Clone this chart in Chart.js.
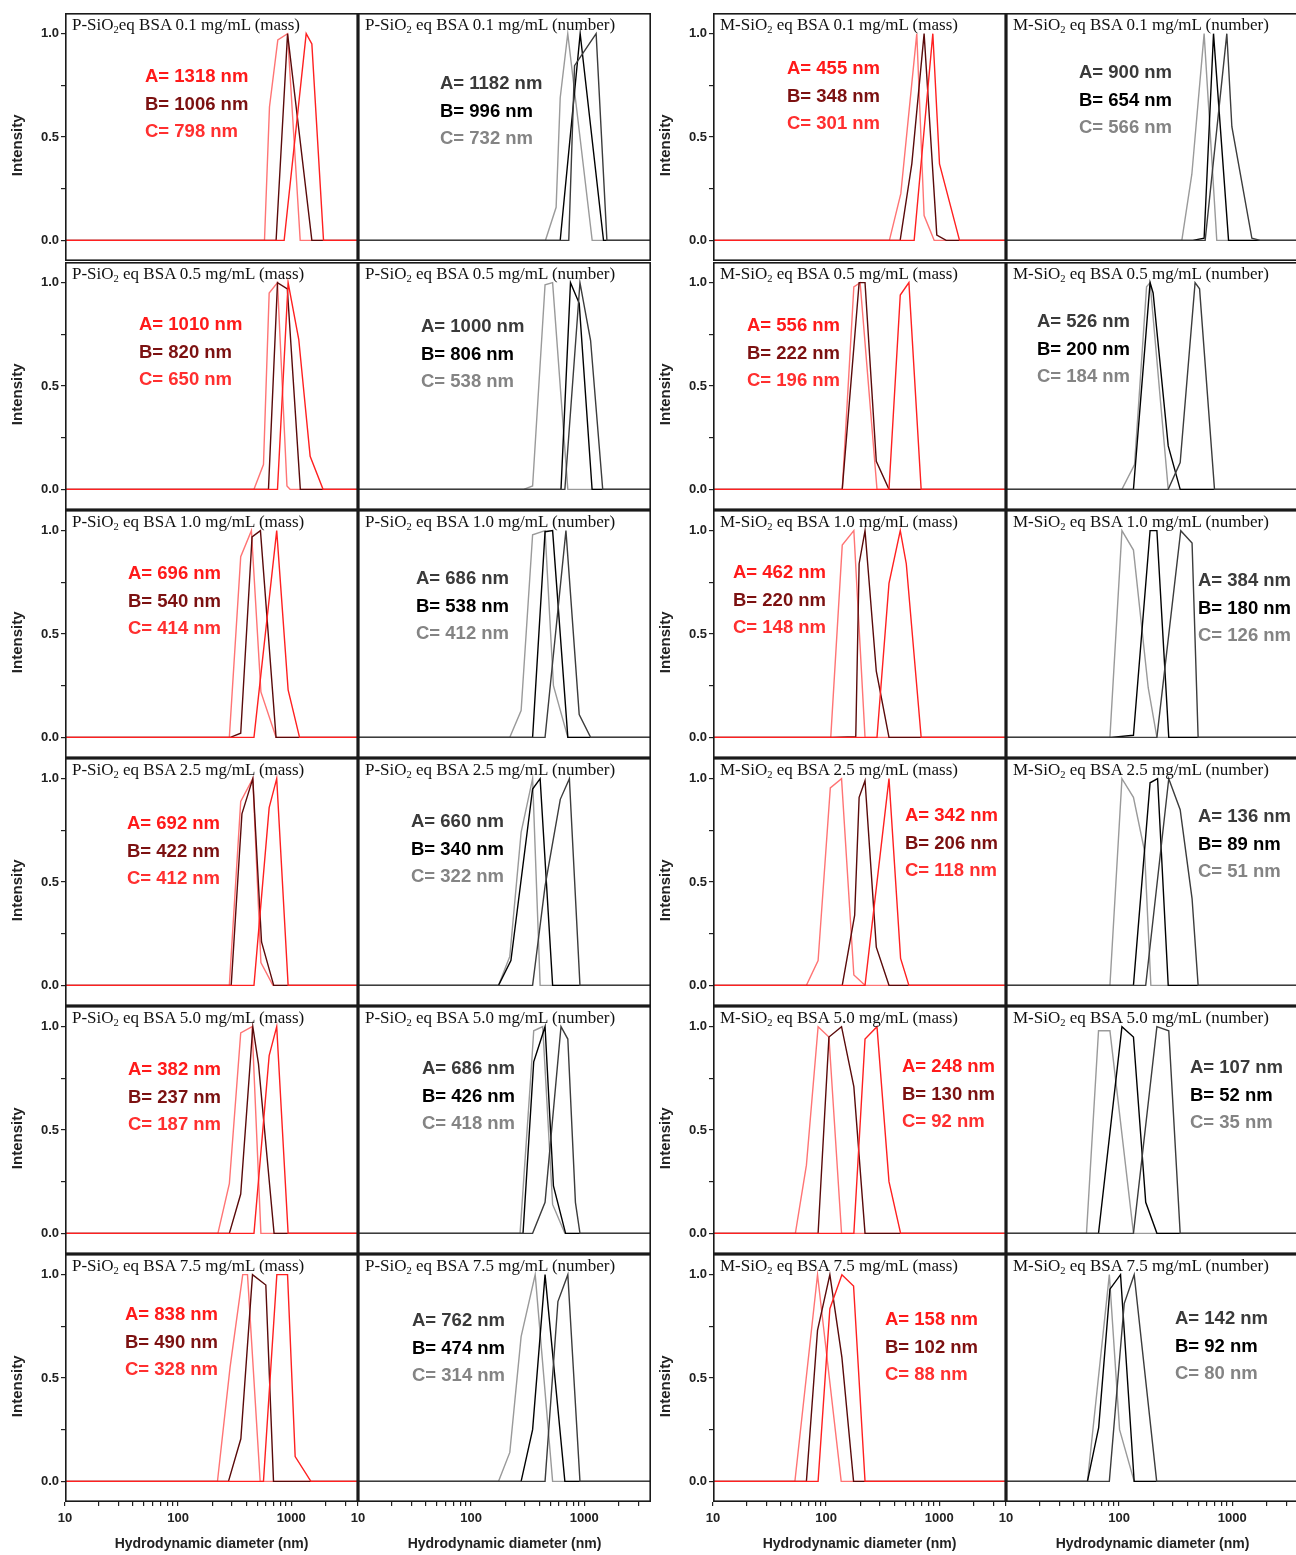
<!DOCTYPE html>
<html><head><meta charset="utf-8">
<script src="https://cdn.jsdelivr.net/npm/chart.js@4.4.1/dist/chart.umd.min.js"></script>
<style>
html,body{margin:0;padding:0;background:#fff;}
body{width:1296px;height:1555px;overflow:hidden;position:relative;}
canvas{position:absolute;}
.ttl{position:absolute;font-family:'Liberation Serif','Times New Roman',serif;font-size:17px;color:#111;white-space:nowrap;line-height:17px;z-index:5;}
.ttl sub{font-size:10.5px;vertical-align:-3px;line-height:0;}
.ann{position:absolute;font-family:'Liberation Sans',Arial,sans-serif;font-weight:bold;font-size:18.5px;line-height:27.5px;white-space:nowrap;z-index:5;}
</style></head><body>
<script>
// ---------------- DATA ----------------
const concentrations = ['0.1', '0.5', '1.0', '2.5', '5.0', '7.5'];
const xTickValues = [10, 100, 1000];
const xMinorTicks = [20,30,40,50,60,70,80,90,200,300,400,500,600,700,800,900,2000,3000];
const yTickValues = [0, 0.5, 1.0];
const yMinorTicks = [0.25, 0.75];

// Peak labels (A, B, C in nm)
const P_mass_labels   = [[1318,1006,798],[1010,820,650],[696,540,414],[692,422,412],[382,237,187],[838,490,328]];
const P_number_labels = [[1182,996,732],[1000,806,538],[686,538,412],[660,340,322],[686,426,418],[762,474,314]];
const M_mass_labels   = [[455,348,301],[556,222,196],[462,220,148],[342,206,118],[248,130,92],[158,102,88]];
const M_number_labels = [[900,654,566],[526,200,184],[384,180,126],[136,89,51],[107,52,35],[142,92,80]];

// P-SiO2 (mass) curves [diameter nm, intensity]
const P_mass_01_A = [[10,0],[867,0],[1358,1.0],[1524,0.95],[1932,0],[3900,0]];
const P_mass_01_B = [[10,0],[736,0],[929,1.0],[1524,0],[3900,0]];
const P_mass_01_C = [[10,0],[581,0],[643,0.645],[762,0.97],[929,1.0],[1202,0],[3900,0]];
const P_mass_05_A = [[10,0],[757,0],[940,1.0],[1167,0.726],[1472,0.16],[1914,0],[3900,0]];
const P_mass_05_B = [[10,0],[630,0],[757,1.0],[925,0.97],[1205,0],[3900,0]];
const P_mass_05_C = [[10,0],[469,0],[569,0.12],[639,0.95],[757,1.0],[918,0.016],[977,0],[3900,0]];
const P_mass_10_A = [[10,0],[469,0],[745,1.0],[940,0.23],[1186,0],[3900,0]];
const P_mass_10_B = [[10,0],[290,0],[358,0.02],[451,0.97],[535,1.0],[735,0],[3900,0]];
const P_mass_10_C = [[10,0],[284,0],[358,0.874],[445,1.0],[540,0.22],[735,0],[3900,0]];
const P_mass_25_A = [[10,0],[469,0],[639,0.86],[745,1.0],[940,0],[3900,0]];
const P_mass_25_B = [[10,0],[295,0],[367,0.83],[458,1.0],[547,0.21],[701,0],[3900,0]];
const P_mass_25_C = [[10,0],[284,0],[358,0.89],[458,1.0],[540,0.11],[690,0],[3900,0]];
const P_mass_50_A = [[10,0],[469,0],[639,0.86],[745,1.0],[940,0],[3900,0]];
const P_mass_50_B = [[10,0],[284,0],[358,0.19],[458,1.0],[514,0.82],[706,0],[3900,0]];
const P_mass_50_C = [[10,0],[225,0],[284,0.24],[358,0.97],[451,1.0],[540,0],[3900,0]];
const P_mass_75_A = [[10,0],[569,0],[747,1.0],[929,1.0],[1085,0.12],[1494,0],[3900,0]];
const P_mass_75_B = [[10,0],[279,0],[359,0.206],[455,1.0],[597,0.95],[698,0],[3900,0]];
const P_mass_75_C = [[10,0],[223,0],[288,0.55],[373,1.0],[411,1.0],[532,0],[3900,0]];

// P-SiO2 (number)
const P_num_01_A = [[10,0],[731,0],[822,0.845],[1276,1.0],[1589,0],[3900,0]];
const P_num_01_B = [[10,0],[614,0],[922,1.0],[1483,0],[3900,0]];
const P_num_01_C = [[10,0],[455,0],[565,0.16],[614,0.69],[716,1.0],[1177,0],[3900,0]];
const P_num_05_A = [[10,0],[675,0],[918,1.0],[1140,0.72],[1459,0],[3900,0]];
const P_num_05_B = [[10,0],[624,0],[757,1.0],[904,0.9],[1175,0],[3900,0]];
const P_num_05_C = [[10,0],[292,0],[350,0.016],[451,0.99],[526,1.0],[717,0],[3900,0]];
const P_num_10_A = [[10,0],[451,0],[690,1.0],[904,0.11],[1140,0],[3900,0]];
const P_num_10_B = [[10,0],[350,0],[451,0.995],[526,1.0],[717,0],[3900,0]];
const P_num_10_C = [[10,0],[220,0],[277,0.13],[350,0.98],[451,1.0],[535,0.25],[717,0],[3900,0]];
const P_num_25_A = [[10,0],[350,0],[451,0.48],[615,0.9],[740,1.0],[918,0],[3900,0]];
const P_num_25_B = [[10,0],[175,0],[225,0.12],[350,0.95],[408,1.0],[526,0],[3900,0]];
const P_num_25_C = [[10,0],[175,0],[220,0.14],[277,0.74],[350,1.0],[408,0],[3900,0]];
const P_num_50_A = [[10,0],[350,0],[451,0.15],[624,1.0],[717,0.94],[837,0.15],[918,0],[3900,0]];
const P_num_50_B = [[10,0],[288,0],[358,0.83],[451,1.0],[535,0.23],[685,0],[3900,0]];
const P_num_50_C = [[10,0],[271,0],[342,0.81],[358,0.98],[430,1.0],[526,0.14],[675,0],[3900,0]];
const P_num_75_A = [[10,0],[451,0],[586,0.87],[717,1.0],[918,0],[3900,0]];
const P_num_75_B = [[10,0],[277,0],[350,0.25],[451,1.0],[675,0],[3900,0]];
const P_num_75_C = [[10,0],[175,0],[220,0.14],[277,0.70],[369,1.0],[526,0],[3900,0]];

// M-SiO2 (mass)
const M_mass_01_A = [[10,0],[601,0],[879,1.0],[1007,0.37],[1514,0],[3900,0]];
const M_mass_01_B = [[10,0],[452,0],[573,0.37],[736,1.0],[953,0.025],[1153,0],[3900,0]];
const M_mass_01_C = [[10,0],[363,0],[458,0.226],[634,1.0],[736,0.12],[903,0],[3900,0]];
const M_mass_05_A = [[10,0],[360,0],[453,0.94],[540,1.0],[693,0],[3900,0]];
const M_mass_05_B = [[10,0],[139,0],[196,1.0],[221,1.0],[278,0.136],[360,0],[3900,0]];
const M_mass_05_C = [[10,0],[139,0],[176,0.98],[200,1.0],[282,0],[3900,0]];
const M_mass_10_A = [[10,0],[282,0],[360,0.745],[453,1.0],[512,0.84],[693,0],[3900,0]];
const M_mass_10_B = [[10,0],[110,0],[183,0.003],[196,0.84],[221,1.0],[278,0.32],[360,0],[3900,0]];
const M_mass_10_C = [[10,0],[110,0],[139,0.93],[176,1.0],[221,0],[3900,0]];
const M_mass_25_A = [[10,0],[221,0],[360,1.0],[456,0.13],[540,0],[3900,0]];
const M_mass_25_B = [[10,0],[139,0],[179,0.34],[196,0.91],[221,0.99],[278,0.185],[360,0],[3900,0]];
const M_mass_25_C = [[10,0],[67,0],[85,0.12],[109,0.955],[137,1.0],[176,0.05],[221,0],[3900,0]];
const M_mass_50_A = [[10,0],[176,0],[221,0.94],[282,1.0],[360,0.25],[456,0],[3900,0]];
const M_mass_50_B = [[10,0],[85,0],[106,0.95],[137,1.0],[176,0.71],[221,0],[3900,0]];
const M_mass_50_C = [[10,0],[53.5,0],[67,0.33],[85,1.0],[106,0.95],[137,0],[3900,0]];
const M_mass_75_A = [[10,0],[85,0],[108,0.835],[138,1.0],[175,0.945],[221,0],[3900,0]];
const M_mass_75_B = [[10,0],[67,0],[84,0.73],[108,1.0],[138,0.60],[175,0],[3900,0]];
const M_mass_75_C = [[10,0],[53,0],[84,1.0],[136,0],[3900,0]];

// M-SiO2 (number)
const M_num_01_A = [[10,0],[577,0],[897,1.0],[994,0.55],[1494,0.01],[1770,0],[3900,0]];
const M_num_01_B = [[10,0],[449,0],[565,0.01],[684,1.0],[929,0],[3900,0]];
const M_num_01_C = [[10,0],[359,0],[440,0.32],[565,1.0],[731,0],[3900,0]];
const M_num_05_A = [[10,0],[272,0],[347,0.13],[470,1.0],[515,0.97],[698,0],[3900,0]];
const M_num_05_B = [[10,0],[134,0],[188,1.0],[200,0.95],[272,0.21],[347,0],[3900,0]];
const M_num_05_C = [[10,0],[106,0],[137,0.12],[175,0.98],[188,1.0],[272,0],[3900,0]];
const M_num_10_A = [[10,0],[216,0],[351,1.0],[442,0.94],[500,0],[3900,0]];
const M_num_10_B = [[10,0],[85,0],[134,0.01],[188,1.0],[216,1.0],[275,0],[3900,0]];
const M_num_10_C = [[10,0],[83,0],[106,1.0],[134,0.906],[181,0.24],[216,0],[3900,0]];
const M_num_25_A = [[10,0],[172,0],[275,1.0],[347,0.85],[442,0.42],[500,0],[3900,0]];
const M_num_25_B = [[10,0],[134,0],[188,0.98],[219,1.0],[272,0],[3900,0]];
const M_num_25_C = [[10,0],[83,0],[106,1.0],[134,0.91],[168,0.65],[191,0],[3900,0]];
const M_num_50_A = [[10,0],[134,0],[216,1.0],[275,0.98],[347,0],[3900,0]];
const M_num_50_B = [[10,0],[65.8,0],[106,1.0],[134,0.95],[172,0.15],[216,0],[3900,0]];
const M_num_50_C = [[10,0],[51.5,0],[65.8,0.98],[83,0.98],[134,0],[3900,0]];
const M_num_75_A = [[10,0],[82,0],[111,0.86],[136,1.0],[215,0],[3900,0]];
const M_num_75_B = [[10,0],[52.5,0],[66,0.26],[83,0.93],[103,1.0],[136,0],[3900,0]];
const M_num_75_C = [[10,0],[52.5,0],[82,1.0],[101,0.25],[136,0],[3900,0]];

const P_mass = [[P_mass_01_A,P_mass_01_B,P_mass_01_C],[P_mass_05_A,P_mass_05_B,P_mass_05_C],[P_mass_10_A,P_mass_10_B,P_mass_10_C],[P_mass_25_A,P_mass_25_B,P_mass_25_C],[P_mass_50_A,P_mass_50_B,P_mass_50_C],[P_mass_75_A,P_mass_75_B,P_mass_75_C]];
const P_number = [[P_num_01_A,P_num_01_B,P_num_01_C],[P_num_05_A,P_num_05_B,P_num_05_C],[P_num_10_A,P_num_10_B,P_num_10_C],[P_num_25_A,P_num_25_B,P_num_25_C],[P_num_50_A,P_num_50_B,P_num_50_C],[P_num_75_A,P_num_75_B,P_num_75_C]];
const M_mass = [[M_mass_01_A,M_mass_01_B,M_mass_01_C],[M_mass_05_A,M_mass_05_B,M_mass_05_C],[M_mass_10_A,M_mass_10_B,M_mass_10_C],[M_mass_25_A,M_mass_25_B,M_mass_25_C],[M_mass_50_A,M_mass_50_B,M_mass_50_C],[M_mass_75_A,M_mass_75_B,M_mass_75_C]];
const M_number = [[M_num_01_A,M_num_01_B,M_num_01_C],[M_num_05_A,M_num_05_B,M_num_05_C],[M_num_10_A,M_num_10_B,M_num_10_C],[M_num_25_A,M_num_25_B,M_num_25_C],[M_num_50_A,M_num_50_B,M_num_50_C],[M_num_75_A,M_num_75_B,M_num_75_C]];

// ---------------- LAYOUT / STYLE ----------------
const colLefts = [65, 358, 713, 1006];
const rowTops = [13, 262, 510, 758, 1006, 1254];
const boxW = 293, boxH = 248;
const massLine = ['#ff2020', '#5a0a0a', '#ff7474'];
const numLine  = ['#3c3c3c', '#000000', '#9a9a9a'];
const massText = ['#ff1a1a', '#7c1111', '#ff2f2f'];
const numText  = ['#3a3a3a', '#000000', '#848484'];
const annPos = [
  [[145,76],[139,324],[128,573],[127,823],[128,1069],[125,1314]],
  [[440,83],[421,326],[416,578],[411,821],[422,1068],[412,1320]],
  [[787,68],[747,325],[733,572],[905,815],[902,1066],[885,1319]],
  [[1079,72],[1037,321],[1198,580],[1198,816],[1190,1067],[1175,1318]]
];
const groups = [
  {prefix:'P', mode:'mass', curves:P_mass, labels:P_mass_labels},
  {prefix:'P', mode:'number', curves:P_number, labels:P_number_labels},
  {prefix:'M', mode:'mass', curves:M_mass, labels:M_mass_labels},
  {prefix:'M', mode:'number', curves:M_number, labels:M_number_labels}
];

const framePlugin = {
  id: 'frame',
  afterDraw(chart) {
    const {ctx, chartArea: a} = chart;
    ctx.save();
    ctx.strokeStyle = '#1a1a1a';
    ctx.lineWidth = 1.6;
    ctx.strokeRect(a.left + 0.8, a.top + 0.8, a.right - a.left - 1.6, a.bottom - a.top - 1.6);
    ctx.restore();
  }
};

const tickFont = {family: "'Liberation Sans', Arial, sans-serif", size: 13, weight: 'bold'};

function makePanel(col, row) {
  const g = groups[col];
  const isMass = g.mode === 'mass';
  const hasY = (col === 0 || col === 2);
  const hasX = (row === 5);
  const extraL = (!hasY && hasX) ? 14 : 0;
  const padL = hasY ? 65 : extraL, padB = hasX ? 53 : 0;
  const W = boxW + padL, H = boxH + padB;
  const cv = document.createElement('canvas');
  cv.width = W; cv.height = H;
  cv.style.width = W + 'px'; cv.style.height = H + 'px';
  cv.style.left = (colLefts[col] - padL) + 'px';
  cv.style.top = rowTops[row] + 'px';
  document.body.appendChild(cv);
  const lc = isMass ? massLine : numLine;
  const series = g.curves[row];
  new Chart(cv, {
    type: 'line',
    data: {
      datasets: ['A','B','C'].map((k, i) => ({
        label: k,
        data: series[i].map(p => ({x: p[0], y: p[1]})),
        borderColor: lc[i], borderWidth: 1.4, pointRadius: 0, tension: 0, fill: false
      }))
    },
    options: {
      responsive: false, animation: false, devicePixelRatio: 1, events: [],
      layout: {padding: {left: extraL, right: 0, top: 0, bottom: 0}},
      plugins: {legend: {display: false}, tooltip: {enabled: false}, title: {display: false}},
      scales: {
        x: {
          type: 'logarithmic', min: 10, max: 3900, display: hasX,
          afterBuildTicks: a => { a.ticks = xTickValues.concat(xMinorTicks).sort((p,q)=>p-q).map(v => ({value: v, major: xTickValues.includes(v)})); },
          afterFit: a => { a.height = hasX ? 53 : 0; a.paddingLeft = 0; a.paddingRight = 0; a.paddingTop = 0; a.paddingBottom = 0; },
          grid: {display: true, drawOnChartArea: false, drawTicks: true, tickLength: 4, color: '#222', lineWidth: 1.2},
          border: {display: false},
          ticks: {autoSkip: false, maxRotation: 0, minRotation: 0, padding: 5, color: '#222', font: tickFont,
                  callback: v => xTickValues.includes(v) ? String(v) : ''},
          title: {display: true, text: 'Hydrodynamic diameter (nm)', color: '#222',
                  font: {family: "'Liberation Sans', Arial, sans-serif", size: 14, weight: 'bold'}, padding: {top: 0, bottom: 2}}
        },
        y: {
          type: 'linear', min: -0.1, max: 1.1, display: hasY,
          afterBuildTicks: a => { a.ticks = yTickValues.concat(yMinorTicks).sort((p,q)=>p-q).map(v => ({value: v})); },
          afterFit: a => { a.width = hasY ? 65 : 0; a.paddingTop = 0; a.paddingBottom = 0; a.paddingLeft = 0; a.paddingRight = 0; },
          grid: {display: true, drawOnChartArea: false, drawTicks: true, tickLength: 4, color: '#222', lineWidth: 1.2},
          border: {display: false},
          ticks: {padding: 2, color: '#222', font: tickFont,
                  callback: v => yTickValues.includes(v) ? v.toFixed(1) : ''},
          title: {display: true, text: 'Intensity    ', color: '#222',
                  font: {family: "'Liberation Sans', Arial, sans-serif", size: 15, weight: 'bold'}, padding: {top: 9, bottom: 0}}
        }
      }
    },
    plugins: [framePlugin]
  });

  // panel title
  const t = document.createElement('div');
  t.className = 'ttl';
  const sep = (col === 0 && row === 0) ? '' : ' ';
  t.innerHTML = g.prefix + '-SiO<sub>2</sub>' + sep + 'eq BSA ' + concentrations[row] + ' mg/mL (' + g.mode + ')';
  t.style.left = (colLefts[col] + 7) + 'px';
  t.style.top = (rowTops[row] + 3) + 'px';
  document.body.appendChild(t);

  // annotation
  const tc = isMass ? massText : numText;
  const [ax, ay] = annPos[col][row];
  const d = document.createElement('div');
  d.className = 'ann';
  d.style.left = ax + 'px';
  d.style.top = (ay - 13.75) + 'px';
  const lab = g.labels[row];
  d.innerHTML = ['A','B','C'].map((k, i) => '<div style="color:' + tc[i] + '">' + k + '= ' + lab[i] + ' nm</div>').join('');
  document.body.appendChild(d);
}

for (let c = 0; c < 4; c++) for (let r = 0; r < 6; r++) makePanel(c, r);
</script>
</body></html>
